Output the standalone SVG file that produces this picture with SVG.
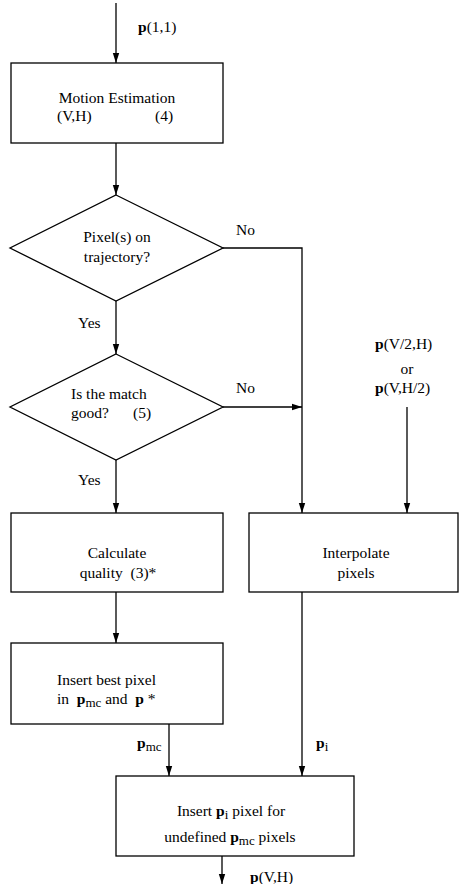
<svg xmlns="http://www.w3.org/2000/svg" width="459" height="884" viewBox="0 0 459 884">
<defs>
<marker id="ah" markerWidth="10" markerHeight="8" refX="10" refY="4" orient="auto" markerUnits="userSpaceOnUse">
<path d="M0,0.8 L10,4 L0,7.2 Z" fill="#000"/>
</marker>
</defs>
<style>
text{font-family:"Liberation Serif","Times New Roman",serif;font-size:15.5px;fill:#000}
.c{text-anchor:middle}
.b{font-weight:bold}
.s{font-size:13px}
.box{fill:#fff;stroke:#000;stroke-width:1.3}
.ln{fill:none;stroke:#000;stroke-width:1.3}
</style>
<rect width="459" height="884" fill="#fff"/>
<g id="connectors">
<line class="ln" x1="116" y1="3" x2="116" y2="63" marker-end="url(#ah)"/>
<line class="ln" x1="116" y1="143" x2="116" y2="195" marker-end="url(#ah)"/>
<polyline class="ln" points="223,248 302,248 302,513" marker-end="url(#ah)"/>
<line class="ln" x1="116" y1="301" x2="116" y2="354" marker-end="url(#ah)"/>
<line class="ln" x1="223" y1="407" x2="302" y2="407" marker-end="url(#ah)"/>
<line class="ln" x1="407" y1="407" x2="407" y2="513" marker-end="url(#ah)"/>
<line class="ln" x1="116" y1="460" x2="116" y2="513" marker-end="url(#ah)"/>
<line class="ln" x1="116" y1="592" x2="116" y2="643" marker-end="url(#ah)"/>
<line class="ln" x1="302" y1="592" x2="302" y2="776" marker-end="url(#ah)"/>
<line class="ln" x1="169" y1="724" x2="169" y2="776" marker-end="url(#ah)"/>
<line class="ln" x1="222" y1="856" x2="222" y2="884" marker-end="url(#ah)"/>
<text x="138" y="32"><tspan class="b">p</tspan>(1,1)</text>
<text x="236" y="235">No</text>
<text x="78" y="328">Yes</text>
<text x="236" y="393">No</text>
<text x="78" y="485">Yes</text>
<text x="137" y="748"><tspan class="b">p</tspan><tspan class="s" dy="3">mc</tspan></text>
<text x="316" y="748"><tspan class="b">p</tspan><tspan class="s" dy="3">i</tspan></text>
<text x="250" y="882"><tspan class="b">p</tspan>(V,H)</text>
</g>
<g id="input">
<text x="375" y="349"><tspan class="b">p</tspan>(V/2,H)</text>
<text x="407" y="374" class="c">or</text>
<text x="375" y="393"><tspan class="b">p</tspan>(V,H/2)</text>
</g>
<g id="motion">
<rect class="box" x="11" y="63" width="212" height="80"/>
<text x="117" y="103" class="c">Motion Estimation</text>
<text x="57" y="121">(V,H)</text>
<text x="155" y="121">(4)</text>
</g>
<g id="traj">
<polygon class="box" points="116,195 223,248 116,301 10,248"/>
<text x="117" y="242" class="c">Pixel(s) on</text>
<text x="117" y="262" class="c">trajectory?</text>
</g>
<g id="match">
<polygon class="box" points="116,354 223,407 116,460 10,407"/>
<text x="71" y="399">Is the match</text>
<text x="71" y="418">good?<tspan x="133">(5)</tspan></text>
</g>
<g id="calc">
<rect class="box" x="11" y="513" width="212" height="79"/>
<text x="117" y="558" class="c">Calculate</text>
<text x="118" y="578" class="c">quality&#160; (3)*</text>
</g>
<g id="interp">
<rect class="box" x="249" y="513" width="209" height="79"/>
<text x="356" y="558" class="c">Interpolate</text>
<text x="356" y="578" class="c">pixels</text>
</g>
<g id="insert1">
<rect class="box" x="11" y="643" width="212" height="81"/>
<text x="57" y="685">Insert best pixel</text>
<text x="57" y="704">in&#160; <tspan class="b">p</tspan><tspan class="s" dy="3">mc</tspan><tspan dy="-3"> and&#160; </tspan><tspan class="b">p</tspan> *</text>
</g>
<g id="insert2">
<rect class="box" x="116" y="776" width="238" height="80"/>
<text x="231" y="816" class="c">Insert <tspan class="b">p</tspan><tspan class="s" dy="3">i</tspan><tspan dy="-3"> pixel for</tspan></text>
<text x="230" y="842" class="c">undefined <tspan class="b">p</tspan><tspan class="s" dy="3">mc</tspan><tspan dy="-3"> pixels</tspan></text>
</g>
</svg>
